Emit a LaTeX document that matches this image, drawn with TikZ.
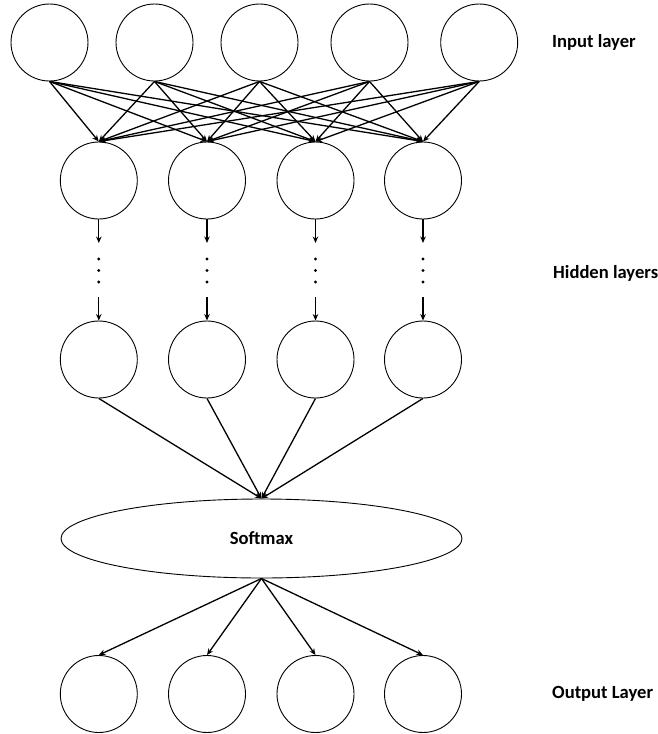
\documentclass[tikz,border=0pt]{standalone}
\usepackage{fontspec}
\setmainfont{Carlito}
\usetikzlibrary{arrows.meta,shapes.geometric}

\begin{document}
\begin{tikzpicture}[x=1pt,y=-1pt,
  neuron/.style={circle,draw,line width=0.9pt,minimum size=77pt,inner sep=0pt},
  layerlabel/.style={anchor=west,inner sep=0pt,font=\fontsize{18.6}{22}\selectfont\bfseries},
  link/.style={line width=1.3pt,-{Stealth[length=6.5pt,width=5.5pt]}},
  dotmark/.style={circle,fill,inner sep=0pt,minimum size=3.2pt}]
  \useasboundingbox (0,0) rectangle (658,734);

  % input layer
  \foreach \i/\x in {1/49.5,2/154.5,3/259.5,4/369.5,5/479.2}
    \node[neuron] (in\i) at (\x,42.5) {};

  % first and last hidden layers, output layer
  \foreach \j/\x in {1/98.8,2/207,3/315.5,4/423}{
    \node[neuron] (ha\j) at (\x,180.5) {};
    \node[neuron] (hb\j) at (\x,359.5) {};
    \node[neuron] (out\j) at (\x,694) {};
    \coordinate (da\j) at (\x,243);
    \coordinate (db\j) at (\x,297);
    \node[dotmark] (dot\j a) at (\x,259) {};
    \node[dotmark] (dot\j b) at (\x,270.5) {};
    \node[dotmark] (dot\j c) at (\x,282) {};
  }

  % softmax
  \node[ellipse,draw,line width=0.9pt,minimum width=401pt,minimum height=79pt,inner sep=0pt,
        font=\fontsize{18.6}{22}\selectfont\bfseries] (soft) at (261.5,538.5) {Softmax};

  % fully connected input -> hidden
  \foreach \i in {1,...,5}
    \foreach \j in {1,...,4}
      \draw[link] (in\i.south) -- (ha\j.north);

  % stacked hidden layers
  \foreach \j in {1,...,4}{
    \draw[link] (ha\j.south) -- (da\j);
    \draw[link] (db\j) -- (hb\j.north);
    \draw[link] (hb\j.south) -- (soft.north);
    \draw[link] (soft.south) -- (out\j.north);
  }

  % layer captions
  \node[layerlabel] (lin) at (552,42) {Input layer};
  \node[layerlabel] (lhid) at (553,273) {Hidden layers};
  \node[layerlabel] (lout) at (552,694) {Output Layer};
\end{tikzpicture}
\end{document}
